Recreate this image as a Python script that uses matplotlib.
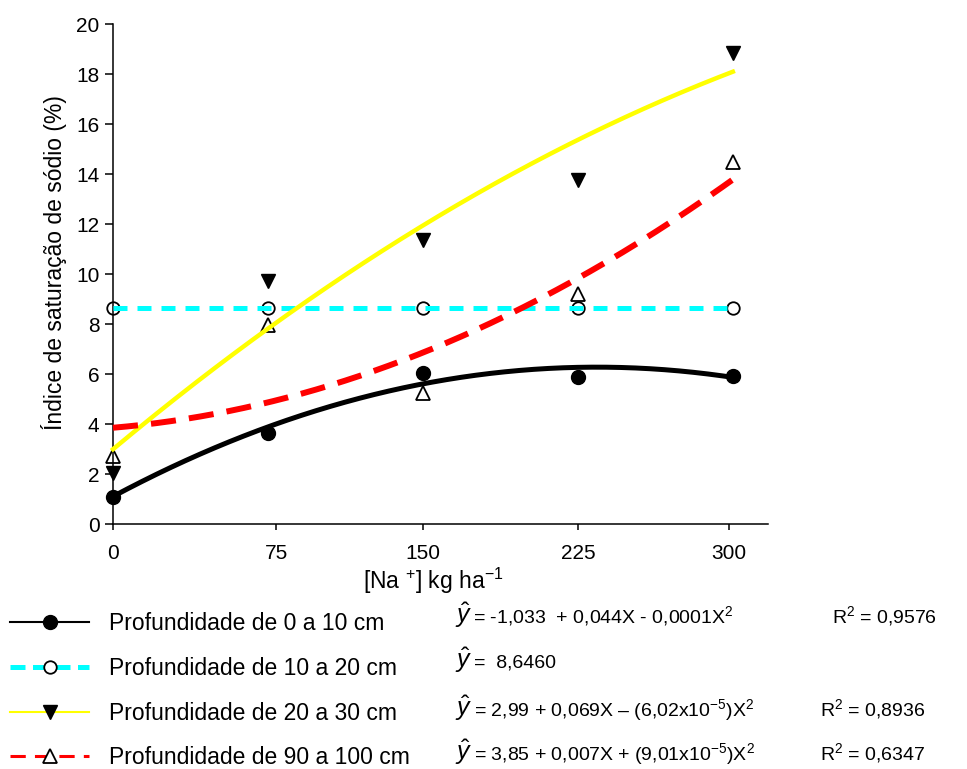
import numpy as np
import matplotlib.pyplot as plt
from matplotlib.lines import Line2D

plt.rcParams['font.family'] = ['Liberation Sans', 'DejaVu Sans']
plt.rcParams['mathtext.fontset'] = 'custom'
plt.rcParams['mathtext.rm'] = 'Liberation Sans'
plt.rcParams['mathtext.it'] = 'Liberation Sans:italic'

# Doses de sodio (kg/ha) e valores observados por profundidade
doses = [0, 75, 150, 225, 300]
prof_0_10 = [1.09, 3.65, 6.05, 5.89, 5.92]
prof_10_20 = [8.65, 8.65, 8.65, 8.65, 8.65]
prof_20_30 = [2.05, 9.73, 11.36, 13.76, 18.85]
prof_90_100 = [2.73, 7.96, 5.23, 9.20, 14.49]

# Coeficientes das curvas ajustadas (a + bX + cX^2)
coef_0_10 = [1.1, 0.0442, -0.0000944]
coef_10_20 = [8.646]
coef_20_30 = [2.99, 0.069, -6.22e-5]
coef_90_100 = [3.85, 0.007, 8.7e-5]

rotulos = ['Profundidade de 0 a 10 cm', 'Profundidade de 10 a 20 cm',
           'Profundidade de 20 a 30 cm', 'Profundidade de 90 a 100 cm']
equacoes = ['= -1,033  + 0,044X - 0,0001X$^{2}$',
            '=  8,6460',
            '= 2,99 + 0,069X \u2013 (6,02x10$^{-5}$)X$^{2}$',
            '= 3,85 + 0,007X + (9,01x10$^{-5}$)X$^{2}$']
r2 = ['R$^{2}$ = 0,9576', '', 'R$^{2}$ = 0,8936', 'R$^{2}$ = 0,6347']

xticks_pos = [0, 79, 150, 225, 298]
xticks_lab = ['0', '75', '150', '225', '300']

W, H = 967, 769
fig = plt.figure(figsize=(W / 100, H / 100), dpi=100)
ax = fig.add_axes([113 / W, 1 - 524 / H, 655 / W, 500 / H])

xs = np.linspace(0, 300, 300)
P = np.polynomial.polynomial.polyval

# marcadores (abaixo das linhas)
ax.plot(doses, prof_0_10, 'o', color='black', ms=10, zorder=2, clip_on=False)
ax.plot(doses, prof_10_20, 'o', mfc='white', mec='black', mew=1.3, ms=9, zorder=2, clip_on=False)
ax.plot(doses, prof_20_30, 'v', color='black', ms=10, zorder=2, clip_on=False)
ax.plot(doses, prof_90_100, '^', mfc='white', mec='black', mew=1.3, ms=10, zorder=2, clip_on=False)

# curvas ajustadas
ax.plot(xs, P(xs, coef_0_10), color='black', lw=3.6, zorder=3, clip_on=False)
ax.plot(xs, P(xs, coef_10_20) * np.ones_like(xs), color='#00FFFF', lw=3.6,
        dashes=(2.8, 2.0), zorder=3, clip_on=False)
ax.plot(xs, P(xs, coef_20_30), color='#FFFF00', lw=3.2, zorder=3, clip_on=False)
ax.plot(xs, P(xs, coef_90_100), color='#FF0000', lw=4.3, dashes=(4.2, 2.2),
        zorder=3, clip_on=False)

ax.set_xlim(0, 317)
ax.set_ylim(0, 20)
ax.set_yticks(range(0, 21, 2))
ax.set_xticks(xticks_pos)
ax.set_xticklabels(xticks_lab)
for s in ['top', 'right']:
    ax.spines[s].set_visible(False)
for s in ['left', 'bottom']:
    ax.spines[s].set_linewidth(1.1)
ax.tick_params(axis='y', direction='out', length=5.8, width=1.1, pad=4, labelsize=15)
ax.tick_params(axis='x', direction='out', length=4.3, width=1.1, pad=10, labelsize=15)

ax.set_ylabel('Índice de saturação de sódio (%)', fontsize=16.5)
ax.yaxis.set_label_coords((67 - 113) / 655, (524 - 263) / 500)
ax.set_xlabel('[Na $^{+}$] kg ha$^{-1}$', fontsize=16.5)
ax.xaxis.set_label_coords((433 - 113) / 655, (524 - 566) / 500)

# legenda
handles = [
    Line2D([], [], color='black', lw=1.5, marker='o', ms=10, mfc='black', mec='black'),
    Line2D([], [], color='#00FFFF', lw=3.6, dashes=(3.0, 1.5), marker='o', ms=9,
           mfc='white', mec='black', mew=1.3),
    Line2D([], [], color='#FFFF00', lw=1.5, marker='v', ms=10, mfc='black', mec='black'),
    Line2D([], [], color='#FF0000', lw=2.2, dashes=(5, 3), marker='^', ms=10,
           mfc='white', mec='black', mew=1.3),
]
fig.legend(handles, rotulos, loc='upper left', bbox_to_anchor=(10 / W, 1 - 612 / H),
           bbox_transform=fig.transFigure, frameon=False, fontsize=16.5, numpoints=1,
           handlelength=3.45, handletextpad=0.88, labelspacing=0.95, borderpad=0,
           borderaxespad=0)

linhas_y = [623, 668, 716, 760]
eq_x = [473, 474, 474, 474]
r2_x = [832, 0, 820, 820]
for i in range(4):
    fig.text(455 / W, 1 - linhas_y[i] / H, r'$\hat{y}$', fontsize=18, va='baseline')
    fig.text(eq_x[i] / W, 1 - linhas_y[i] / H, equacoes[i], fontsize=14, va='baseline')
    if r2[i]:
        fig.text(r2_x[i] / W, 1 - linhas_y[i] / H, r2[i], fontsize=14, va='baseline')

fig.savefig('out.png', dpi=100)
